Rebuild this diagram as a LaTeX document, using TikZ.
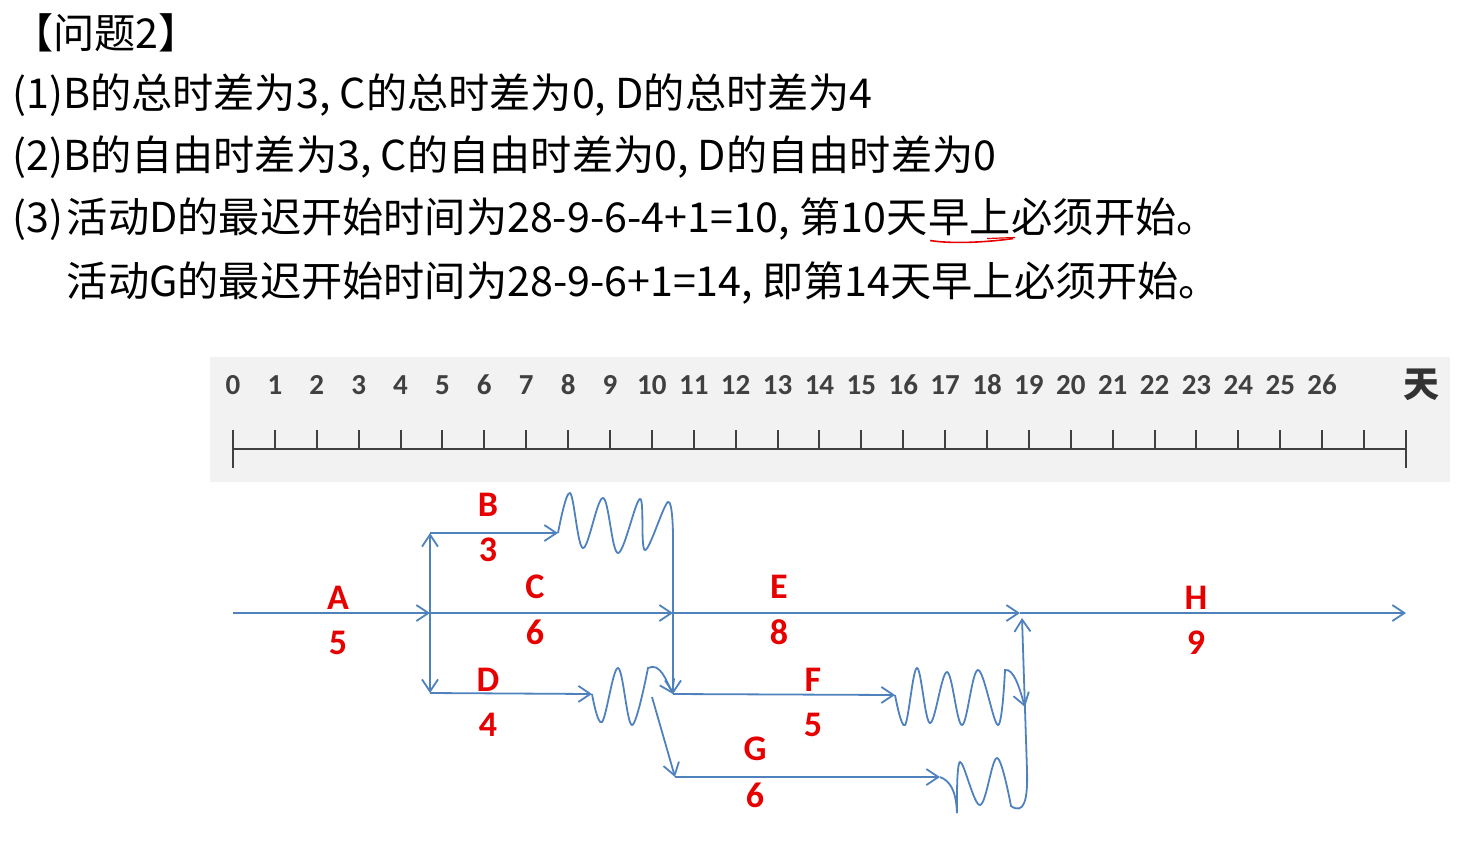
\documentclass[tikz,border=0pt]{standalone}
\usepackage{fontspec}
\setmainfont{Noto Sans CJK SC}
\newfontfamily\lblfont{Carlito}
\usetikzlibrary{arrows.meta,positioning}
\definecolor{netblue}{RGB}{79,129,189}
\definecolor{actred}{RGB}{230,0,0}
\definecolor{bandgray}{RGB}{242,242,242}
\definecolor{scalegray}{RGB}{64,64,64}
\tikzset{
    %Define standard arrow tip
    >={Straight Barb[length=6pt,width=8pt]},
    %Define style for text lines
    txt/.style={
           inner sep=0pt,
           font=\fontsize{20.6pt}{24pt}\selectfont},
    % Define arrow style
    pil/.style={
           ->,
           netblue,
           line width=0.9pt},
    wave/.style={
           netblue,
           line width=0.9pt},
    % Define label styles
    akt/.style={
           inner sep=0pt,
           text=actred,
           font=\lblfont\bfseries\fontsize{18pt}{20pt}\selectfont},
    day/.style={
           inner sep=0pt,
           text=scalegray,
           font=\lblfont\bfseries\fontsize{14.5pt}{16pt}\selectfont},
    tick/.style={
           scalegray,
           line width=1pt}
}
\begin{document}
\begin{tikzpicture}[x=0.5pt,y=-0.5pt]
\useasboundingbox (0,0) rectangle (1479,864);

\node[txt, anchor=west] (title) at (12,33) {【问题2】};
\node[txt, anchor=west] (q1) at (12,95) {(1)B的总时差为3, C的总时差为0, D的总时差为4};
\node[txt, anchor=west] (q2) at (12,157) {(2)B的自由时差为3, C的自由时差为0, D的自由时差为0};
\node[txt, anchor=west] (q3) at (12,220) {(3)};
\node[txt, base right=1.5pt of q3] (q3a) {活动D的最迟开始时间为28-9-6-4+1=10, 第10天};
\node[txt, base right=0pt of q3a] (zao) {早上};
\node[txt, base right=0pt of zao] (q3b) {必须开始。};
\node[txt, anchor=west] (q4) at (q3a.west |- 0,283) {活动G的最迟开始时间为28-9-6+1=14, 即第14天早上必须开始。};
\draw[actred, line width=0.8pt] ([xshift=1pt,yshift=-2pt]zao.south west)
  .. controls +(25,4) and +(-20,3) .. ([xshift=1pt,yshift=-1pt]zao.south east);
\draw[actred, line width=0.6pt] ([xshift=-12pt,yshift=-1pt]zao.south east) -- ([xshift=2pt,yshift=-0.5pt]zao.south east);

% time scale
\fill[bandgray] (210,357) rectangle (1450,482);
\draw[tick] (233,449) -- (1406,449);
\draw[tick] (233,430) -- (233,468);
\draw[tick] (1406,430) -- (1406,468);
\foreach \i in {1,...,27}
  \draw[tick] (233+41.89*\i,430) -- ++(0,19);
\foreach \i in {0,...,26}
  \node[day] (d\i) at (233+41.89*\i,385) {\i};
\node[inner sep=0pt, text=black!80, font=\bfseries\fontsize{18pt}{20pt}\selectfont] (tian) at (1421,385) {天};

% events
\coordinate (s) at (233,613);
\coordinate (n2) at (430,613);
\coordinate (b0) at (430,533);
\coordinate (b1) at (558,533);
\coordinate (d0) at (430,693);
\coordinate (d1) at (592,694);
\coordinate (n3) at (673,613);
\coordinate (f0) at (673,694);
\coordinate (f1) at (895,695);
\coordinate (fe) at (1025,707);
\coordinate (gb) at (652,697);
\coordinate (g0) at (675,777);
\coordinate (g1) at (940,777);
\coordinate (gw) at (957,813);
\coordinate (n4) at (1020,613);
\coordinate (n4b) at (1022,618);
\coordinate (e) at (1406,613);

% activities
\draw[pil] (s) -- (n2);
\draw[pil] (n2) -- (n3);
\draw[pil] (n3) -- (n4);
\draw[pil] (n4) -- (e);
\draw[pil, <->] (b0) -- (d0);
\draw[pil] (b0) -- (b1);
\draw[pil] (d0) -- (d1);
\draw[pil] (n3) -- (f0);
\draw[pil] (f0) -- (f1);
\draw[pil] (gb) -- (g0);
\draw[pil] (g0) -- (g1);

% free floats
\draw[wave] plot[smooth, tension=0.6] coordinates {(b1) (570,493) (583,548) (603,498) (618,553) (640,499) (645,550) (668,502) (673,535)} -- (n3);
\draw[wave, ->] plot[smooth, tension=0.6] coordinates {(d1) (602,722) (618,668) (632,725) (648,668)}
  .. controls (660,662) and (666,680) .. (f0);
\draw[wave, ->] plot[smooth, tension=0.6] coordinates {(f1) (905,725) (917,668) (930,723) (947,672) (962,725) (978,670) (998,725) (1005,670)}
  .. controls (1014,668) and (1020,690) .. (fe);
\draw[wave] (g1) .. controls (950,781) and (956,790) .. (gw);
\draw[wave, ->] plot[smooth, tension=0.6] coordinates {(gw) (960,762) (980,805) (997,758) (1011,806)}
  .. controls (1024,815) and (1028,800) .. (1027,770) -- (n4b);

% labels
\node[akt] (lA) at (338,598) {A};
\node[akt] (tA) at (338,643) {5};
\node[akt] (lB) at (488,505) {B};
\node[akt] (tB) at (488,550) {3};
\node[akt] (lC) at (535,587) {C};
\node[akt] (tC) at (535,632) {6};
\node[akt] (lD) at (488,680) {D};
\node[akt] (tD) at (488,725) {4};
\node[akt] (lE) at (779,587) {E};
\node[akt] (tE) at (779,632) {8};
\node[akt] (lF) at (813,680) {F};
\node[akt] (tF) at (813,725) {5};
\node[akt] (lG) at (755,749) {G};
\node[akt] (tG) at (755,795) {6};
\node[akt] (lH) at (1196,598) {H};
\node[akt] (tH) at (1196,643) {9};
\end{tikzpicture}
\end{document}
